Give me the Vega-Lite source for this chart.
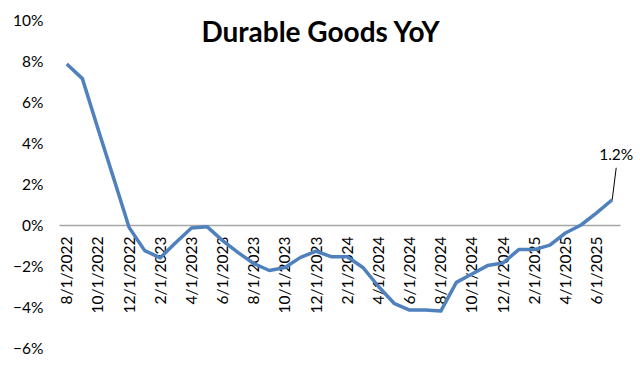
{
  "$schema": "https://vega.github.io/schema/vega-lite/v6.json",
  "width": 561,
  "height": 328,
  "autosize": {"type": "none"},
  "padding": {"left": 59, "top": 20, "right": 20, "bottom": 22},
  "background": "white",
  "config": {
    "view": {"stroke": null},
    "font": "Lato"
  },
  "title": {
    "text": "Durable Goods YoY",
    "font": "Lato",
    "fontSize": 28,
    "fontWeight": "bold",
    "color": "#000000",
    "anchor": "middle",
    "frame": "group",
    "offset": -35,
    "dx": -19
  },
  "data": {
    "values": [
      {"date": "8/1/2022", "yoy": 0.0785},
      {"date": "9/1/2022", "yoy": 0.0714},
      {"date": "10/1/2022", "yoy": 0.047},
      {"date": "11/1/2022", "yoy": 0.023},
      {"date": "12/1/2022", "yoy": -0.0012},
      {"date": "1/1/2023", "yoy": -0.0125},
      {"date": "2/1/2023", "yoy": -0.016},
      {"date": "3/1/2023", "yoy": -0.0085},
      {"date": "4/1/2023", "yoy": -0.0015},
      {"date": "5/1/2023", "yoy": -0.0008},
      {"date": "6/1/2023", "yoy": -0.0076},
      {"date": "7/1/2023", "yoy": -0.0135},
      {"date": "8/1/2023", "yoy": -0.0188},
      {"date": "9/1/2023", "yoy": -0.0222},
      {"date": "10/1/2023", "yoy": -0.0207},
      {"date": "11/1/2023", "yoy": -0.0158},
      {"date": "12/1/2023", "yoy": -0.0128},
      {"date": "1/1/2024", "yoy": -0.0155},
      {"date": "2/1/2024", "yoy": -0.0155},
      {"date": "3/1/2024", "yoy": -0.0207},
      {"date": "4/1/2024", "yoy": -0.03},
      {"date": "5/1/2024", "yoy": -0.0382},
      {"date": "6/1/2024", "yoy": -0.0415},
      {"date": "7/1/2024", "yoy": -0.0415},
      {"date": "8/1/2024", "yoy": -0.042},
      {"date": "9/1/2024", "yoy": -0.028},
      {"date": "10/1/2024", "yoy": -0.0239},
      {"date": "11/1/2024", "yoy": -0.0198},
      {"date": "12/1/2024", "yoy": -0.0185},
      {"date": "1/1/2025", "yoy": -0.012},
      {"date": "2/1/2025", "yoy": -0.012},
      {"date": "3/1/2025", "yoy": -0.0098},
      {"date": "4/1/2025", "yoy": -0.0039},
      {"date": "5/1/2025", "yoy": 0.0},
      {"date": "6/1/2025", "yoy": 0.0059},
      {"date": "7/1/2025", "yoy": 0.0123, "label": "1.2%"}
    ]
  },
  "encoding": {
    "x": {
      "field": "date",
      "type": "ordinal",
      "sort": null,
      "scale": {"type": "point", "padding": 0.5},
      "axis": {
        "title": null,
        "values": ["8/1/2022", "10/1/2022", "12/1/2022", "2/1/2023", "4/1/2023", "6/1/2023", "8/1/2023", "10/1/2023", "12/1/2023", "2/1/2024", "4/1/2024", "6/1/2024", "8/1/2024", "10/1/2024", "12/1/2024", "2/1/2025", "4/1/2025", "6/1/2025"],
        "labelAngle": -90,
        "labelAlign": "right",
        "labelBaseline": "middle",
        "labelFont": "Lato",
        "labelFontSize": 15.5,
        "labelColor": "#000000",
        "labelPadding": 11,
        "labelOverlap": false,
        "ticks": false,
        "domain": true,
        "domainColor": "#A6A6A6",
        "domainWidth": 1.5,
        "offset": -123,
        "grid": false
      }
    },
    "y": {
      "field": "yoy",
      "type": "quantitative",
      "scale": {"domain": [-0.06, 0.10], "nice": false, "zero": false},
      "axis": {
        "title": null,
        "format": ".0%",
        "values": [-0.06, -0.04, -0.02, 0, 0.02, 0.04, 0.06, 0.08, 0.10],
        "labelFont": "Lato",
        "labelFontSize": 15.5,
        "labelColor": "#000000",
        "labelPadding": 16,
        "ticks": false,
        "domain": false,
        "grid": false
      }
    }
  },
  "layer": [
    {
      "mark": {"type": "line", "color": "#4F81BD", "strokeWidth": 3.5, "strokeJoin": "round"}
    },
    {
      "transform": [{"filter": "datum.label != null"}],
      "mark": {"type": "rule", "color": "#000000", "strokeWidth": 1, "y2Offset": -32, "x2Offset": 4},
      "encoding": {
        "x2": {"field": "date"},
        "y2": {"field": "yoy"}
      }
    },
    {
      "transform": [{"filter": "datum.label != null"}],
      "mark": {"type": "text", "font": "Lato", "fontSize": 15.5, "color": "#000000", "dx": 4, "dy": -45, "align": "center", "baseline": "middle"},
      "encoding": {"text": {"field": "label"}}
    }
  ]
}
